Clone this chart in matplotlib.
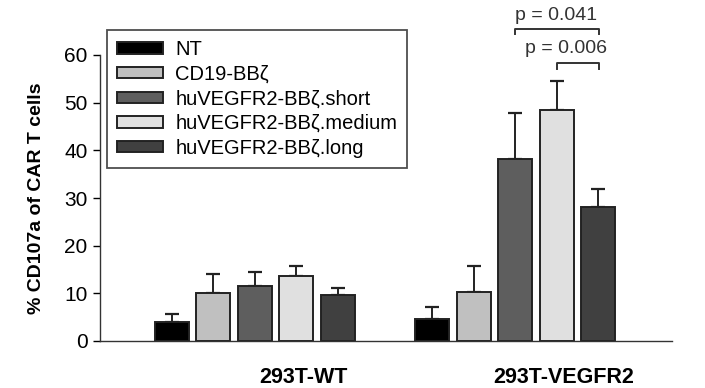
import matplotlib
matplotlib.use("Agg")
import matplotlib.pyplot as plt
import numpy as np

plt.rcParams['font.family'] = ['Liberation Sans', 'DejaVu Sans']

groups = ["293T-WT", "293T-VEGFR2"]
series = ["NT", "CD19-BBζ", "huVEGFR2-BBζ.short", "huVEGFR2-BBζ.medium", "huVEGFR2-BBζ.long"]
colors = ["#000000", "#c0c0c0", "#5e5e5e", "#e0e0e0", "#404040"]
means = {
    "293T-WT":     [4.0, 10.1, 11.6, 13.6, 9.6],
    "293T-VEGFR2": [4.6, 10.3, 38.2, 48.4, 28.1],
}
errs = {
    "293T-WT":     [1.6, 3.9, 2.9, 2.1, 1.5],
    "293T-VEGFR2": [2.5, 5.4, 9.7, 6.2, 3.8],
}
pvals = ["p = 0.041", "p = 0.006"]

fig = plt.figure(figsize=(7.05, 3.88), dpi=100)
ax = fig.add_axes([100/705, (388-341)/388, (672-100)/705, (341-55)/388])

group_offset = 6.27
width = 0.82
for gi, g in enumerate(groups):
    for si, s in enumerate(series):
        x = gi*group_offset + si
        ax.bar(x, means[g][si], width=width, color=colors[si], edgecolor="#222222",
               linewidth=1.4, label=s if gi == 0 else None, zorder=2)
        ax.errorbar(x, means[g][si], yerr=[[0], [errs[g][si]]], fmt="none",
                    ecolor="#222222", elinewidth=1.4, capsize=5, capthick=1.6, zorder=1)

ax.set_xlim(-1.73, 12.05)
ax.set_ylim(0, 60)
ax.set_yticks(np.arange(0, 61, 10))
ax.tick_params(axis='y', labelsize=15, direction='out', length=5, width=1, pad=4)
ax.set_xticks([3.16, group_offset + 3.16])
ax.set_xticklabels(groups, fontsize=15.5, fontweight='bold')
ax.tick_params(axis='x', length=0, pad=19)
ax.set_ylabel("% CD107a of CAR T cells", fontsize=14, fontweight='bold', labelpad=14)
for sp in ["top", "right"]:
    ax.spines[sp].set_visible(False)
for sp in ["left", "bottom"]:
    ax.spines[sp].set_linewidth(1.0)
    ax.spines[sp].set_color("#333333")

leg = ax.legend(loc="upper left", bbox_to_anchor=(0.012, 1.087), borderaxespad=0,
                fontsize=14.5, frameon=True, fancybox=False, edgecolor="#222222",
                handlelength=2.3, handleheight=0.5, labelspacing=0.28,
                borderpad=0.5, handletextpad=0.6)
leg.get_frame().set_linewidth(1.3)

# significance brackets
def bracket(x1, x2, y, h, text, tx, ty):
    ax.plot([x1, x1, x2, x2], [y - h, y, y, y - h], color="#333333", lw=1.4, clip_on=False)
    ax.text(tx, ty, text, ha="center", va="baseline", fontsize=14, color="#333333")

bracket(8.27, 10.29, 65.4, 0.9, pvals[0], 9.25, 67.4)
bracket(9.28, 10.29, 58.3, 1.2, pvals[1], 9.5, 60.5)

fig.savefig("out.png", dpi=100)
